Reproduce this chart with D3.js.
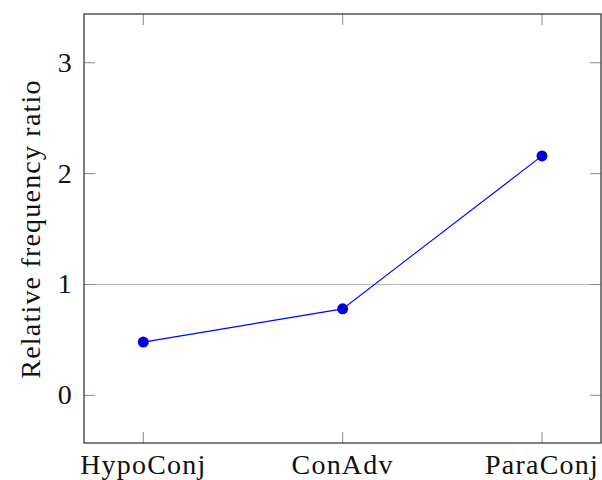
<!DOCTYPE html>
<html>
<head>
<meta charset="utf-8">
<script src="https://cdn.jsdelivr.net/npm/d3@7"></script>
<style>
  html, body { margin: 0; padding: 0; background: #fff; }
  svg text { font-family: "Liberation Serif", "DejaVu Serif", serif; fill: #111; letter-spacing: 1.2px; }
</style>
</head>
<body>
<svg id="chart" width="602" height="480"></svg>
<script>
// Categories and the relative frequency ratio for each
const categories = ["HypoConj", "ConAdv", "ParaConj"];
const ratios = [0.48, 0.78, 2.16];
const yTicks = [0, 1, 2, 3];
const refLines = [1];

const svg = d3.select("#chart");
const margin = { left: 84, top: 14, right: 1, bottom: 37 };
const W = 602, H = 480;
const x0 = margin.left, x1 = W - margin.right;
const y0 = H - margin.bottom, y1 = margin.top;

const x = d3.scalePoint().domain(categories).range([143.3, 542]);
const y = d3.scaleLinear().domain([-0.43, 3.44]).range([y0, y1]);

// Reference line at ratio = 1
svg.selectAll("line.ref").data(refLines).join("line")
  .attr("class", "ref")
  .attr("x1", x0).attr("x2", x1)
  .attr("y1", d => y(d)).attr("y2", d => y(d))
  .attr("stroke", "#bdbdbd").attr("stroke-width", 1.2);

// Tick marks (inward on all four sides)
const tickLen = 11;
const tickColor = "#8a8a8a";
const tg = svg.append("g");
yTicks.forEach(t => {
  tg.append("line").attr("x1", x0).attr("x2", x0 + tickLen)
    .attr("y1", y(t)).attr("y2", y(t)).attr("stroke", tickColor);
  tg.append("line").attr("x1", x1).attr("x2", x1 - tickLen)
    .attr("y1", y(t)).attr("y2", y(t)).attr("stroke", tickColor);
});
categories.forEach(c => {
  tg.append("line").attr("x1", x(c)).attr("x2", x(c))
    .attr("y1", y0).attr("y2", y0 - tickLen).attr("stroke", tickColor);
  tg.append("line").attr("x1", x(c)).attr("x2", x(c))
    .attr("y1", y1).attr("y2", y1 + tickLen).attr("stroke", tickColor);
});

// Axis frame
svg.append("rect")
  .attr("x", x0).attr("y", y1)
  .attr("width", x1 - x0).attr("height", y0 - y1)
  .attr("fill", "none").attr("stroke", "#2a2a2a").attr("stroke-width", 1.2);

// Tick labels
svg.selectAll("text.ylab").data(yTicks).join("text")
  .attr("class", "ylab")
  .attr("x", x0 - 11).attr("y", d => y(d) + 9)
  .attr("text-anchor", "end")
  .attr("font-size", 28)
  .text(d => d);

svg.selectAll("text.xlab").data(categories).join("text")
  .attr("class", "xlab")
  .attr("x", d => x(d)).attr("y", y0 + 31)
  .attr("text-anchor", "middle")
  .attr("font-size", 28)
  .text(d => d);

// Y axis title
svg.append("text")
  .attr("transform", `translate(40, 229) rotate(-90)`)
  .attr("text-anchor", "middle")
  .attr("font-size", 28)
  .text("Relative frequency ratio");

// Series line and markers
const pts = categories.map((c, i) => ({ c, v: ratios[i] }));
svg.append("path")
  .datum(pts)
  .attr("fill", "none").attr("stroke", "#0000ff").attr("stroke-width", 1.1)
  .attr("d", d3.line().x(d => x(d.c)).y(d => y(d.v)));

svg.selectAll("circle.pt").data(pts).join("circle")
  .attr("class", "pt")
  .attr("cx", d => x(d.c)).attr("cy", d => y(d.v))
  .attr("r", 5.5)
  .attr("fill", "#0000dd");
</script>
</body>
</html>
